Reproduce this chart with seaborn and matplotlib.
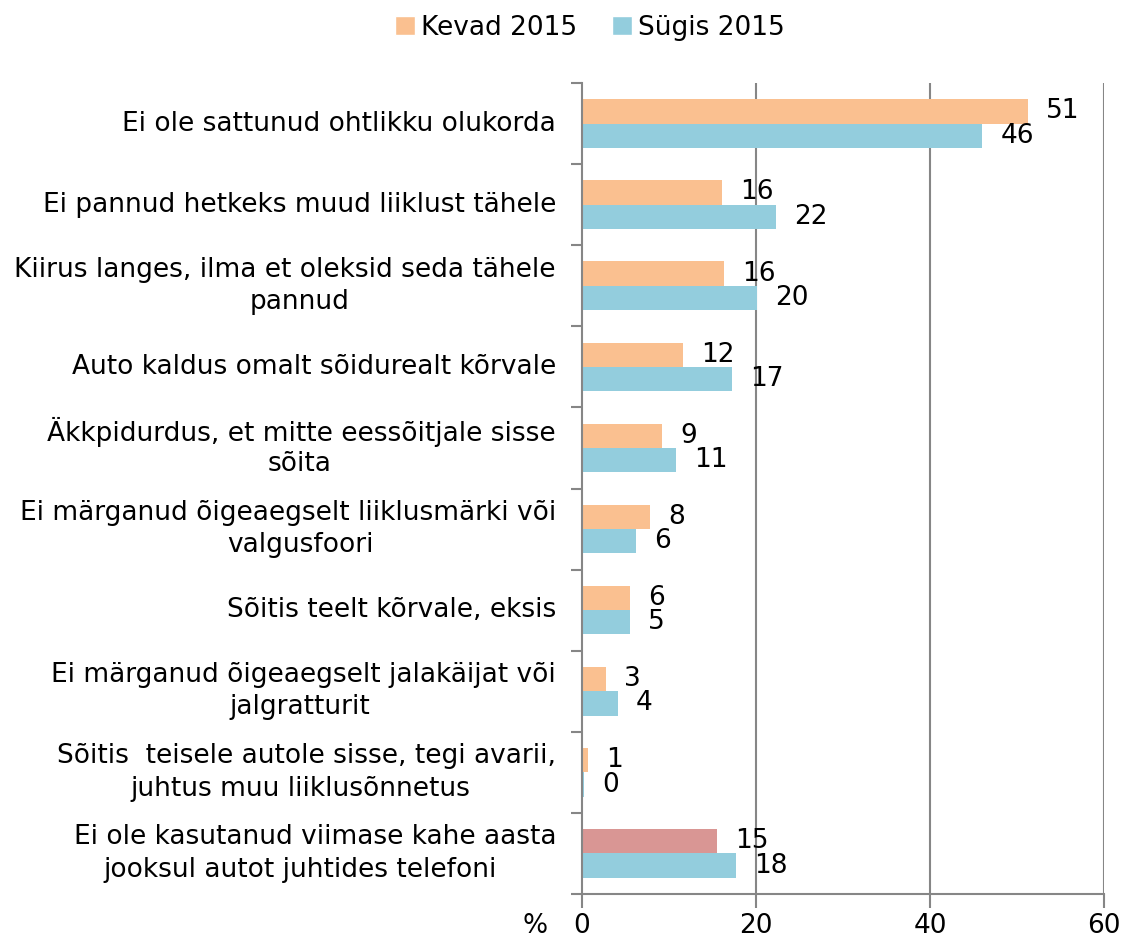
import pandas as pd
import numpy as np
import matplotlib.pyplot as plt
import seaborn as sns
from matplotlib.transforms import blended_transform_factory
from matplotlib.patches import Patch

# Data
categories = [
    "Ei ole sattunud ohtlikku olukorda",
    "Ei pannud hetkeks muud liiklust tähele",
    "Kiirus langes, ilma et oleksid seda tähele\npannud",
    "Auto kaldus omalt sõidurealt kõrvale",
    "Äkkpidurdus, et mitte eessõitjale sisse\nsõita",
    "Ei märganud õigeaegselt liiklusmärki või\nvalgusfoori",
    "Sõitis teelt kõrvale, eksis",
    "Ei märganud õigeaegselt jalakäijat või\njalgratturit",
    "Sõitis  teisele autole sisse, tegi avarii,\njuhtus muu liiklusõnnetus",
    "Ei ole kasutanud viimase kahe aasta\njooksul autot juhtides telefoni",
]
kevad = [51.3, 16.1, 16.3, 11.6, 9.2, 7.8, 5.5, 2.8, 0.7, 15.5]
sugis = [46.0, 22.3, 20.1, 17.2, 10.8, 6.2, 5.5, 4.1, 0.2, 17.7]
kevad_labels = ["51", "16", "16", "12", "9", "8", "6", "3", "1", "15"]
sugis_labels = ["46", "22", "20", "17", "11", "6", "5", "4", "0", "18"]
series = ["Kevad 2015", "Sügis 2015"]

c_kevad = "#FAC090"
c_sugis = "#93CDDD"
c_special = "#D99694"
grid_c = "#868686"

df = pd.DataFrame({
    "cat": categories * 2,
    "value": kevad + sugis,
    "series": [series[0]] * len(categories) + [series[1]] * len(categories),
})

sns.set_theme(style="white")
plt.rcParams['font.family'] = ['DejaVu Sans']
plt.rcParams['text.color'] = 'black'
fs = 19

fig = plt.figure(figsize=(11.22, 9.42), dpi=100)
ax = fig.add_axes([582 / 1122, 1 - 894 / 942, (1104 - 582) / 1122, (894 - 83) / 942])

sns.barplot(data=df, y="cat", x="value", hue="series", orient="h",
            palette=[c_kevad, c_sugis], width=0.6, ax=ax, legend=False,
            saturation=1, edgecolor="none")

# last spring bar has a different colour
ax.containers[0][len(categories) - 1].set_facecolor(c_special)

ax.set_xlim(0, 60)
ax.set_ylim(len(categories) - 0.5, -0.5)
ax.set_xticks([0, 20, 40, 60])
ax.tick_params(axis="x", labelsize=fs, length=10, width=1.5, color=grid_c,
               labelcolor="black", direction="out", pad=4, bottom=True)
ax.set_yticks(np.arange(-0.5, len(categories), 1.0))
ax.set_yticklabels([])
ax.tick_params(axis="y", length=8, width=1.5, color=grid_c, direction="out", left=True)
ax.set_xlabel("")
ax.set_ylabel("")

for s in ["top", "right"]:
    ax.spines[s].set_visible(False)
for s in ["left", "bottom"]:
    ax.spines[s].set_color(grid_c)
    ax.spines[s].set_linewidth(1.5)

for xv in [20, 40, 60]:
    ax.axvline(xv, color=grid_c, lw=1.5, zorder=0)

# category labels: first line right aligned at the axis, second line centred
trans_l = blended_transform_factory(fig.transFigure, ax.transData)
for i, lab in enumerate(categories):
    lines = lab.split("\n")
    if len(lines) == 1:
        ax.text(556 / 1122, i, lines[0], transform=trans_l, ha="right", va="center", fontsize=fs)
    else:
        ax.text(556 / 1122, i - 0.2, lines[0], transform=trans_l, ha="right", va="center", fontsize=fs)
        ax.text(300 / 1122, i + 0.2, lines[1], transform=trans_l, ha="center", va="center", fontsize=fs)

# value labels
for bars, labs in zip(ax.containers, [kevad_labels, sugis_labels]):
    for bar, lab in zip(bars, labs):
        ax.annotate(lab, (bar.get_width(), bar.get_y() + bar.get_height() / 2),
                    xytext=(13, 0), textcoords="offset points",
                    ha="left", va="center", fontsize=fs)

fig.text(535 / 1122, 1 - 926 / 942, "%", ha="center", va="center", fontsize=fs)

handles = [Patch(facecolor=c_kevad), Patch(facecolor=c_sugis)]
fig.legend(handles, series, loc="center", bbox_to_anchor=(590 / 1122, 1 - 28 / 942),
           ncol=2, frameon=False, fontsize=fs, handlelength=0.75, handleheight=0.75,
           handletextpad=0.25, columnspacing=1.3)

fig.savefig("out.png", dpi=100)
